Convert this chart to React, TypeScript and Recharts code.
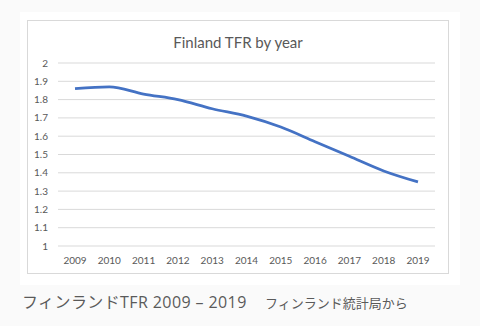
import React from 'react';
import { LineChart, Line, XAxis, YAxis, CartesianGrid } from 'recharts';

const years = ['2009', '2010', '2011', '2012', '2013', '2014', '2015', '2016', '2017', '2018', '2019'];
const tfr = [1.86, 1.87, 1.83, 1.8, 1.75, 1.71, 1.65, 1.57, 1.49, 1.41, 1.35];
const yTicks = [1, 1.1, 1.2, 1.3, 1.4, 1.5, 1.6, 1.7, 1.8, 1.9, 2];

const data = years.map((y, i) => ({ year: y, tfr: tfr[i] }));

const tickStyle = { fontSize: 10, fill: '#595959', fontFamily: 'Lato, sans-serif' };

const App: React.FC = () => {
  return (
    <div style={{ position: 'fixed', left: 0, top: 0, width: 480, height: 326, background: '#fafafa' }}>
      {/* white panel */}
      <div style={{ position: 'absolute', left: 20, top: 12, width: 440, height: 273, background: '#fff' }} />

      {/* chart box */}
      <div
        style={{
          position: 'absolute',
          left: 27,
          top: 20,
          width: 420,
          height: 252,
          border: '1px solid #d9d9d9',
          background: '#fff',
        }}
      >
        <div
          style={{
            position: 'absolute',
            top: 11,
            left: 0,
            width: '100%',
            textAlign: 'center',
            fontFamily: 'Lato, sans-serif',
            fontSize: 15,
            lineHeight: '20px',
            color: '#595959',
          }}
        >
          Finland TFR by year
        </div>
        <LineChart width={420} height={252} data={data} margin={{ top: 42, right: 13, bottom: 7, left: 4 }}>
          <CartesianGrid vertical={false} stroke="#d9d9d9" />
          <XAxis
            dataKey="year"
            axisLine={false}
            tickLine={false}
            tick={tickStyle}
            tickMargin={5}
            height={20}
            padding={{ left: 17, right: 17 }}
            interval={0}
          />
          <YAxis
            domain={[1, 2]}
            ticks={yTicks}
            axisLine={false}
            tickLine={false}
            tick={tickStyle}
            tickMargin={4}
            width={26}
            interval={0}
          />
          <Line
            type="monotone"
            dataKey="tfr"
            stroke="#4472c4"
            strokeWidth={2.8}
            dot={false}
            isAnimationActive={false}
          />
        </LineChart>
      </div>

      {/* caption */}
      <div
        style={{
          position: 'absolute',
          left: 22,
          top: 292,
          whiteSpace: 'nowrap',
          color: '#5a5a5a',
          lineHeight: '20px',
        }}
      >
        <span style={{ position: 'absolute', left: 0, top: 0, fontSize: 16, letterSpacing: 0.4, fontFamily: '"Open Sans", "Noto Sans CJK JP", sans-serif' }}>
          フィンランドTFR 2009 – 2019
        </span>
        <span style={{ position: 'absolute', left: 243, top: 1, fontSize: 13, fontFamily: '"Noto Sans CJK JP", sans-serif' }}>
          フィンランド統計局から
        </span>
      </div>
    </div>
  );
};

export default App;
